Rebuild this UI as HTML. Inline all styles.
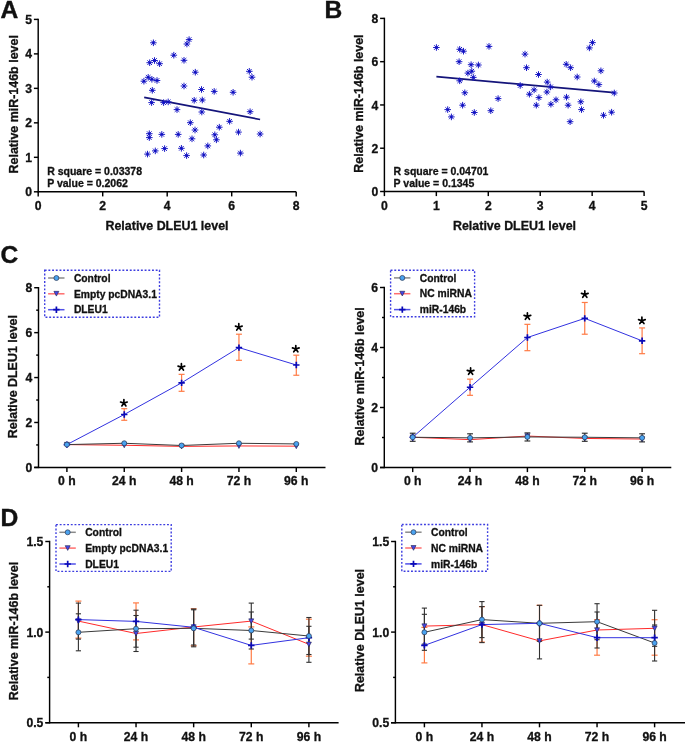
<!DOCTYPE html>
<html><head><meta charset="utf-8"><title>Figure</title>
<style>
html,body{margin:0;padding:0;background:#fff;width:685px;height:742px;overflow:hidden;}
svg{display:block;font-family:"Liberation Sans", sans-serif;font-weight:bold;fill:#111;}
text{stroke:#111;stroke-width:0.3px;}
.pl{stroke-width:0.4px;}
</style></head><body>
<svg style="will-change:transform" width="685" height="742" viewBox="0 0 685 742">
<rect width="685" height="742" fill="#fff"/>
<text x="0.60" y="17.70" font-size="24.6" text-anchor="start"  class="pl">A</text>
<text x="324.50" y="17.60" font-size="24.6" text-anchor="start"  class="pl">B</text>
<text x="0.60" y="262.60" font-size="24.6" text-anchor="start"  class="pl">C</text>
<text x="0.60" y="526.30" font-size="24.6" text-anchor="start"  class="pl">D</text>
<line x1="38.20" y1="18.70" x2="38.20" y2="192.50" stroke="#000" stroke-width="1.45" />
<line x1="33.90" y1="191.80" x2="38.20" y2="191.80" stroke="#000" stroke-width="1.45" />
<text x="32.00" y="196.40" font-size="12.2" text-anchor="end" >0</text>
<line x1="33.90" y1="157.32" x2="38.20" y2="157.32" stroke="#000" stroke-width="1.45" />
<text x="32.00" y="161.92" font-size="12.2" text-anchor="end" >1</text>
<line x1="33.90" y1="122.84" x2="38.20" y2="122.84" stroke="#000" stroke-width="1.45" />
<text x="32.00" y="127.44" font-size="12.2" text-anchor="end" >2</text>
<line x1="33.90" y1="88.36" x2="38.20" y2="88.36" stroke="#000" stroke-width="1.45" />
<text x="32.00" y="92.96" font-size="12.2" text-anchor="end" >3</text>
<line x1="33.90" y1="53.88" x2="38.20" y2="53.88" stroke="#000" stroke-width="1.45" />
<text x="32.00" y="58.48" font-size="12.2" text-anchor="end" >4</text>
<line x1="33.90" y1="19.40" x2="38.20" y2="19.40" stroke="#000" stroke-width="1.45" />
<text x="32.00" y="24.00" font-size="12.2" text-anchor="end" >5</text>
<line x1="38.20" y1="191.80" x2="296.20" y2="191.80" stroke="#000" stroke-width="1.45" />
<line x1="38.20" y1="191.80" x2="38.20" y2="196.40" stroke="#000" stroke-width="1.45" />
<text x="38.20" y="210.20" font-size="12.2" text-anchor="middle" >0</text>
<line x1="102.70" y1="191.80" x2="102.70" y2="196.40" stroke="#000" stroke-width="1.45" />
<text x="102.70" y="210.20" font-size="12.2" text-anchor="middle" >2</text>
<line x1="167.20" y1="191.80" x2="167.20" y2="196.40" stroke="#000" stroke-width="1.45" />
<text x="167.20" y="210.20" font-size="12.2" text-anchor="middle" >4</text>
<line x1="231.70" y1="191.80" x2="231.70" y2="196.40" stroke="#000" stroke-width="1.45" />
<text x="231.70" y="210.20" font-size="12.2" text-anchor="middle" >6</text>
<line x1="296.20" y1="191.80" x2="296.20" y2="196.40" stroke="#000" stroke-width="1.45" />
<text x="296.20" y="210.20" font-size="12.2" text-anchor="middle" >8</text>
<text x="0" y="0" font-size="12.45" text-anchor="middle" transform="translate(17.60,104.30) rotate(-90)">Relative miR-146b level</text>
<text x="167.00" y="229.70" font-size="12.45" text-anchor="middle" >Relative DLEU1 level</text>
<text x="47.20" y="175.40" font-size="10.5" text-anchor="start" >R square = 0.03378</text>
<text x="47.20" y="187.10" font-size="10.5" text-anchor="start" >P value = 0.2062</text>
<line x1="144.20" y1="97.40" x2="260.10" y2="119.50" stroke="#14147a" stroke-width="1.75" />
<g stroke="#1e1ec8" stroke-width="1.0" fill="none">
<path d="M153.40 39.50V46.10M150.10 42.80H156.70M151.10 40.50L155.70 45.10M151.10 45.10L155.70 40.50"/><circle cx="153.40" cy="42.80" r="1.2" fill="#1010c0" stroke="none"/>
<path d="M189.10 36.30V42.90M185.80 39.60H192.40M186.80 37.30L191.40 41.90M186.80 41.90L191.40 37.30"/><circle cx="189.10" cy="39.60" r="1.2" fill="#1010c0" stroke="none"/>
<path d="M186.90 40.70V47.30M183.60 44.00H190.20M184.60 41.70L189.20 46.30M184.60 46.30L189.20 41.70"/><circle cx="186.90" cy="44.00" r="1.2" fill="#1010c0" stroke="none"/>
<path d="M173.80 51.90V58.50M170.50 55.20H177.10M171.50 52.90L176.10 57.50M171.50 57.50L176.10 52.90"/><circle cx="173.80" cy="55.20" r="1.2" fill="#1010c0" stroke="none"/>
<path d="M184.00 57.00V63.60M180.70 60.30H187.30M181.70 58.00L186.30 62.60M181.70 62.60L186.30 58.00"/><circle cx="184.00" cy="60.30" r="1.2" fill="#1010c0" stroke="none"/>
<path d="M149.70 59.40V66.00M146.40 62.70H153.00M147.40 60.40L152.00 65.00M147.40 65.00L152.00 60.40"/><circle cx="149.70" cy="62.70" r="1.2" fill="#1010c0" stroke="none"/>
<path d="M154.50 57.20V63.80M151.20 60.50H157.80M152.20 58.20L156.80 62.80M152.20 62.80L156.80 58.20"/><circle cx="154.50" cy="60.50" r="1.2" fill="#1010c0" stroke="none"/>
<path d="M159.60 60.40V67.00M156.30 63.70H162.90M157.30 61.40L161.90 66.00M157.30 66.00L161.90 61.40"/><circle cx="159.60" cy="63.70" r="1.2" fill="#1010c0" stroke="none"/>
<path d="M195.30 68.90V75.50M192.00 72.20H198.60M193.00 69.90L197.60 74.50M193.00 74.50L197.60 69.90"/><circle cx="195.30" cy="72.20" r="1.2" fill="#1010c0" stroke="none"/>
<path d="M143.90 77.90V84.50M140.60 81.20H147.20M141.60 78.90L146.20 83.50M141.60 83.50L146.20 78.90"/><circle cx="143.90" cy="81.20" r="1.2" fill="#1010c0" stroke="none"/>
<path d="M148.20 74.00V80.60M144.90 77.30H151.50M145.90 75.00L150.50 79.60M145.90 79.60L150.50 75.00"/><circle cx="148.20" cy="77.30" r="1.2" fill="#1010c0" stroke="none"/>
<path d="M151.90 76.00V82.60M148.60 79.30H155.20M149.60 77.00L154.20 81.60M149.60 81.60L154.20 77.00"/><circle cx="151.90" cy="79.30" r="1.2" fill="#1010c0" stroke="none"/>
<path d="M157.00 77.20V83.80M153.70 80.50H160.30M154.70 78.20L159.30 82.80M154.70 82.80L159.30 78.20"/><circle cx="157.00" cy="80.50" r="1.2" fill="#1010c0" stroke="none"/>
<path d="M152.30 87.00V93.60M149.00 90.30H155.60M150.00 88.00L154.60 92.60M150.00 92.60L154.60 88.00"/><circle cx="152.30" cy="90.30" r="1.2" fill="#1010c0" stroke="none"/>
<path d="M184.00 82.70V89.30M180.70 86.00H187.30M181.70 83.70L186.30 88.30M181.70 88.30L186.30 83.70"/><circle cx="184.00" cy="86.00" r="1.2" fill="#1010c0" stroke="none"/>
<path d="M201.50 86.20V92.80M198.20 89.50H204.80M199.20 87.20L203.80 91.80M199.20 91.80L203.80 87.20"/><circle cx="201.50" cy="89.50" r="1.2" fill="#1010c0" stroke="none"/>
<path d="M214.20 88.10V94.70M210.90 91.40H217.50M211.90 89.10L216.50 93.70M211.90 93.70L216.50 89.10"/><circle cx="214.20" cy="91.40" r="1.2" fill="#1010c0" stroke="none"/>
<path d="M194.20 97.00V103.60M190.90 100.30H197.50M191.90 98.00L196.50 102.60M191.90 102.60L196.50 98.00"/><circle cx="194.20" cy="100.30" r="1.2" fill="#1010c0" stroke="none"/>
<path d="M202.30 96.70V103.30M199.00 100.00H205.60M200.00 97.70L204.60 102.30M200.00 102.30L204.60 97.70"/><circle cx="202.30" cy="100.00" r="1.2" fill="#1010c0" stroke="none"/>
<path d="M151.60 99.30V105.90M148.30 102.60H154.90M149.30 100.30L153.90 104.90M149.30 104.90L153.90 100.30"/><circle cx="151.60" cy="102.60" r="1.2" fill="#1010c0" stroke="none"/>
<path d="M163.60 99.30V105.90M160.30 102.60H166.90M161.30 100.30L165.90 104.90M161.30 104.90L165.90 100.30"/><circle cx="163.60" cy="102.60" r="1.2" fill="#1010c0" stroke="none"/>
<path d="M168.20 98.60V105.20M164.90 101.90H171.50M165.90 99.60L170.50 104.20M165.90 104.20L170.50 99.60"/><circle cx="168.20" cy="101.90" r="1.2" fill="#1010c0" stroke="none"/>
<path d="M177.00 106.30V112.90M173.70 109.60H180.30M174.70 107.30L179.30 111.90M174.70 111.90L179.30 107.30"/><circle cx="177.00" cy="109.60" r="1.2" fill="#1010c0" stroke="none"/>
<path d="M201.80 108.70V115.30M198.50 112.00H205.10M199.50 109.70L204.10 114.30M199.50 114.30L204.10 109.70"/><circle cx="201.80" cy="112.00" r="1.2" fill="#1010c0" stroke="none"/>
<path d="M190.30 119.40V126.00M187.00 122.70H193.60M188.00 120.40L192.60 125.00M188.00 125.00L192.60 120.40"/><circle cx="190.30" cy="122.70" r="1.2" fill="#1010c0" stroke="none"/>
<path d="M195.00 126.70V133.30M191.70 130.00H198.30M192.70 127.70L197.30 132.30M192.70 132.30L197.30 127.70"/><circle cx="195.00" cy="130.00" r="1.2" fill="#1010c0" stroke="none"/>
<path d="M219.30 123.90V130.50M216.00 127.20H222.60M217.00 124.90L221.60 129.50M217.00 129.50L221.60 124.90"/><circle cx="219.30" cy="127.20" r="1.2" fill="#1010c0" stroke="none"/>
<path d="M229.60 118.00V124.60M226.30 121.30H232.90M227.30 119.00L231.90 123.60M227.30 123.60L231.90 119.00"/><circle cx="229.60" cy="121.30" r="1.2" fill="#1010c0" stroke="none"/>
<path d="M149.30 130.40V137.00M146.00 133.70H152.60M147.00 131.40L151.60 136.00M147.00 136.00L151.60 131.40"/><circle cx="149.30" cy="133.70" r="1.2" fill="#1010c0" stroke="none"/>
<path d="M149.30 134.30V140.90M146.00 137.60H152.60M147.00 135.30L151.60 139.90M147.00 139.90L151.60 135.30"/><circle cx="149.30" cy="137.60" r="1.2" fill="#1010c0" stroke="none"/>
<path d="M161.80 131.10V137.70M158.50 134.40H165.10M159.50 132.10L164.10 136.70M159.50 136.70L164.10 132.10"/><circle cx="161.80" cy="134.40" r="1.2" fill="#1010c0" stroke="none"/>
<path d="M178.20 131.10V137.70M174.90 134.40H181.50M175.90 132.10L180.50 136.70M175.90 136.70L180.50 132.10"/><circle cx="178.20" cy="134.40" r="1.2" fill="#1010c0" stroke="none"/>
<path d="M192.00 135.50V142.10M188.70 138.80H195.30M189.70 136.50L194.30 141.10M189.70 141.10L194.30 136.50"/><circle cx="192.00" cy="138.80" r="1.2" fill="#1010c0" stroke="none"/>
<path d="M214.80 131.50V138.10M211.50 134.80H218.10M212.50 132.50L217.10 137.10M212.50 137.10L217.10 132.50"/><circle cx="214.80" cy="134.80" r="1.2" fill="#1010c0" stroke="none"/>
<path d="M216.40 136.50V143.10M213.10 139.80H219.70M214.10 137.50L218.70 142.10M214.10 142.10L218.70 137.50"/><circle cx="216.40" cy="139.80" r="1.2" fill="#1010c0" stroke="none"/>
<path d="M207.80 142.60V149.20M204.50 145.90H211.10M205.50 143.60L210.10 148.20M205.50 148.20L210.10 143.60"/><circle cx="207.80" cy="145.90" r="1.2" fill="#1010c0" stroke="none"/>
<path d="M147.50 150.80V157.40M144.20 154.10H150.80M145.20 151.80L149.80 156.40M145.20 156.40L149.80 151.80"/><circle cx="147.50" cy="154.10" r="1.2" fill="#1010c0" stroke="none"/>
<path d="M155.30 147.60V154.20M152.00 150.90H158.60M153.00 148.60L157.60 153.20M153.00 153.20L157.60 148.60"/><circle cx="155.30" cy="150.90" r="1.2" fill="#1010c0" stroke="none"/>
<path d="M164.60 145.30V151.90M161.30 148.60H167.90M162.30 146.30L166.90 150.90M162.30 150.90L166.90 146.30"/><circle cx="164.60" cy="148.60" r="1.2" fill="#1010c0" stroke="none"/>
<path d="M181.40 145.00V151.60M178.10 148.30H184.70M179.10 146.00L183.70 150.60M179.10 150.60L183.70 146.00"/><circle cx="181.40" cy="148.30" r="1.2" fill="#1010c0" stroke="none"/>
<path d="M186.60 152.30V158.90M183.30 155.60H189.90M184.30 153.30L188.90 157.90M184.30 157.90L188.90 153.30"/><circle cx="186.60" cy="155.60" r="1.2" fill="#1010c0" stroke="none"/>
<path d="M203.70 151.70V158.30M200.40 155.00H207.00M201.40 152.70L206.00 157.30M201.40 157.30L206.00 152.70"/><circle cx="203.70" cy="155.00" r="1.2" fill="#1010c0" stroke="none"/>
<path d="M249.30 68.00V74.60M246.00 71.30H252.60M247.00 69.00L251.60 73.60M247.00 73.60L251.60 69.00"/><circle cx="249.30" cy="71.30" r="1.2" fill="#1010c0" stroke="none"/>
<path d="M252.00 73.90V80.50M248.70 77.20H255.30M249.70 74.90L254.30 79.50M249.70 79.50L254.30 74.90"/><circle cx="252.00" cy="77.20" r="1.2" fill="#1010c0" stroke="none"/>
<path d="M233.10 89.00V95.60M229.80 92.30H236.40M230.80 90.00L235.40 94.60M230.80 94.60L235.40 90.00"/><circle cx="233.10" cy="92.30" r="1.2" fill="#1010c0" stroke="none"/>
<path d="M250.10 108.40V115.00M246.80 111.70H253.40M247.80 109.40L252.40 114.00M247.80 114.00L252.40 109.40"/><circle cx="250.10" cy="111.70" r="1.2" fill="#1010c0" stroke="none"/>
<path d="M238.50 128.80V135.40M235.20 132.10H241.80M236.20 129.80L240.80 134.40M236.20 134.40L240.80 129.80"/><circle cx="238.50" cy="132.10" r="1.2" fill="#1010c0" stroke="none"/>
<path d="M260.10 130.70V137.30M256.80 134.00H263.40M257.80 131.70L262.40 136.30M257.80 136.30L262.40 131.70"/><circle cx="260.10" cy="134.00" r="1.2" fill="#1010c0" stroke="none"/>
<path d="M240.40 149.80V156.40M237.10 153.10H243.70M238.10 150.80L242.70 155.40M238.10 155.40L242.70 150.80"/><circle cx="240.40" cy="153.10" r="1.2" fill="#1010c0" stroke="none"/>
</g>
<line x1="384.40" y1="17.70" x2="384.40" y2="192.20" stroke="#000" stroke-width="1.45" />
<line x1="380.10" y1="191.50" x2="384.40" y2="191.50" stroke="#000" stroke-width="1.45" />
<text x="378.20" y="196.10" font-size="12.2" text-anchor="end" >0</text>
<line x1="380.10" y1="148.22" x2="384.40" y2="148.22" stroke="#000" stroke-width="1.45" />
<text x="378.20" y="152.82" font-size="12.2" text-anchor="end" >2</text>
<line x1="380.10" y1="104.95" x2="384.40" y2="104.95" stroke="#000" stroke-width="1.45" />
<text x="378.20" y="109.55" font-size="12.2" text-anchor="end" >4</text>
<line x1="380.10" y1="61.68" x2="384.40" y2="61.68" stroke="#000" stroke-width="1.45" />
<text x="378.20" y="66.28" font-size="12.2" text-anchor="end" >6</text>
<line x1="380.10" y1="18.40" x2="384.40" y2="18.40" stroke="#000" stroke-width="1.45" />
<text x="378.20" y="23.00" font-size="12.2" text-anchor="end" >8</text>
<line x1="384.40" y1="191.50" x2="644.20" y2="191.50" stroke="#000" stroke-width="1.45" />
<line x1="384.40" y1="191.50" x2="384.40" y2="196.10" stroke="#000" stroke-width="1.45" />
<text x="384.40" y="210.10" font-size="12.2" text-anchor="middle" >0</text>
<line x1="436.34" y1="191.50" x2="436.34" y2="196.10" stroke="#000" stroke-width="1.45" />
<text x="436.34" y="210.10" font-size="12.2" text-anchor="middle" >1</text>
<line x1="488.28" y1="191.50" x2="488.28" y2="196.10" stroke="#000" stroke-width="1.45" />
<text x="488.28" y="210.10" font-size="12.2" text-anchor="middle" >2</text>
<line x1="540.22" y1="191.50" x2="540.22" y2="196.10" stroke="#000" stroke-width="1.45" />
<text x="540.22" y="210.10" font-size="12.2" text-anchor="middle" >3</text>
<line x1="592.16" y1="191.50" x2="592.16" y2="196.10" stroke="#000" stroke-width="1.45" />
<text x="592.16" y="210.10" font-size="12.2" text-anchor="middle" >4</text>
<line x1="644.10" y1="191.50" x2="644.10" y2="196.10" stroke="#000" stroke-width="1.45" />
<text x="644.10" y="210.10" font-size="12.2" text-anchor="middle" >5</text>
<text x="0" y="0" font-size="12.45" text-anchor="middle" transform="translate(363.40,103.60) rotate(-90)">Relative miR-146b level</text>
<text x="514.50" y="229.50" font-size="12.45" text-anchor="middle" >Relative DLEU1 level</text>
<text x="393.60" y="175.40" font-size="10.5" text-anchor="start" >R square = 0.04701</text>
<text x="393.60" y="187.10" font-size="10.5" text-anchor="start" >P value = 0.1345</text>
<line x1="436.40" y1="76.70" x2="614.30" y2="92.60" stroke="#14147a" stroke-width="1.75" />
<g stroke="#1e1ec8" stroke-width="1.0" fill="none">
<path d="M436.40 44.20V50.80M433.10 47.50H439.70M434.10 45.20L438.70 49.80M434.10 49.80L438.70 45.20"/><circle cx="436.40" cy="47.50" r="1.2" fill="#1010c0" stroke="none"/>
<path d="M459.70 46.00V52.60M456.40 49.30H463.00M457.40 47.00L462.00 51.60M457.40 51.60L462.00 47.00"/><circle cx="459.70" cy="49.30" r="1.2" fill="#1010c0" stroke="none"/>
<path d="M463.50 47.90V54.50M460.20 51.20H466.80M461.20 48.90L465.80 53.50M461.20 53.50L465.80 48.90"/><circle cx="463.50" cy="51.20" r="1.2" fill="#1010c0" stroke="none"/>
<path d="M489.00 43.10V49.70M485.70 46.40H492.30M486.70 44.10L491.30 48.70M486.70 48.70L491.30 44.10"/><circle cx="489.00" cy="46.40" r="1.2" fill="#1010c0" stroke="none"/>
<path d="M459.10 58.40V65.00M455.80 61.70H462.40M456.80 59.40L461.40 64.00M456.80 64.00L461.40 59.40"/><circle cx="459.10" cy="61.70" r="1.2" fill="#1010c0" stroke="none"/>
<path d="M471.10 61.40V68.00M467.80 64.70H474.40M468.80 62.40L473.40 67.00M468.80 67.00L473.40 62.40"/><circle cx="471.10" cy="64.70" r="1.2" fill="#1010c0" stroke="none"/>
<path d="M478.40 61.70V68.30M475.10 65.00H481.70M476.10 62.70L480.70 67.30M476.10 67.30L480.70 62.70"/><circle cx="478.40" cy="65.00" r="1.2" fill="#1010c0" stroke="none"/>
<path d="M471.80 67.90V74.50M468.50 71.20H475.10M469.50 68.90L474.10 73.50M469.50 73.50L474.10 68.90"/><circle cx="471.80" cy="71.20" r="1.2" fill="#1010c0" stroke="none"/>
<path d="M467.90 69.80V76.40M464.60 73.10H471.20M465.60 70.80L470.20 75.40M465.60 75.40L470.20 70.80"/><circle cx="467.90" cy="73.10" r="1.2" fill="#1010c0" stroke="none"/>
<path d="M473.30 74.10V80.70M470.00 77.40H476.60M471.00 75.10L475.60 79.70M471.00 79.70L475.60 75.10"/><circle cx="473.30" cy="77.40" r="1.2" fill="#1010c0" stroke="none"/>
<path d="M459.70 77.50V84.10M456.40 80.80H463.00M457.40 78.50L462.00 83.10M457.40 83.10L462.00 78.50"/><circle cx="459.70" cy="80.80" r="1.2" fill="#1010c0" stroke="none"/>
<path d="M464.80 89.50V96.10M461.50 92.80H468.10M462.50 90.50L467.10 95.10M462.50 95.10L467.10 90.50"/><circle cx="464.80" cy="92.80" r="1.2" fill="#1010c0" stroke="none"/>
<path d="M498.10 95.30V101.90M494.80 98.60H501.40M495.80 96.30L500.40 100.90M495.80 100.90L500.40 96.30"/><circle cx="498.10" cy="98.60" r="1.2" fill="#1010c0" stroke="none"/>
<path d="M462.60 101.90V108.50M459.30 105.20H465.90M460.30 102.90L464.90 107.50M460.30 107.50L464.90 102.90"/><circle cx="462.60" cy="105.20" r="1.2" fill="#1010c0" stroke="none"/>
<path d="M447.70 106.30V112.90M444.40 109.60H451.00M445.40 107.30L450.00 111.90M445.40 111.90L450.00 107.30"/><circle cx="447.70" cy="109.60" r="1.2" fill="#1010c0" stroke="none"/>
<path d="M451.40 113.60V120.20M448.10 116.90H454.70M449.10 114.60L453.70 119.20M449.10 119.20L453.70 114.60"/><circle cx="451.40" cy="116.90" r="1.2" fill="#1010c0" stroke="none"/>
<path d="M474.30 109.20V115.80M471.00 112.50H477.60M472.00 110.20L476.60 114.80M472.00 114.80L476.60 110.20"/><circle cx="474.30" cy="112.50" r="1.2" fill="#1010c0" stroke="none"/>
<path d="M490.80 107.40V114.00M487.50 110.70H494.10M488.50 108.40L493.10 113.00M488.50 113.00L493.10 108.40"/><circle cx="490.80" cy="110.70" r="1.2" fill="#1010c0" stroke="none"/>
<path d="M520.20 82.20V88.80M516.90 85.50H523.50M517.90 83.20L522.50 87.80M517.90 87.80L522.50 83.20"/><circle cx="520.20" cy="85.50" r="1.2" fill="#1010c0" stroke="none"/>
<path d="M525.00 50.80V57.40M521.70 54.10H528.30M522.70 51.80L527.30 56.40M522.70 56.40L527.30 51.80"/><circle cx="525.00" cy="54.10" r="1.2" fill="#1010c0" stroke="none"/>
<path d="M526.50 64.40V71.00M523.20 67.70H529.80M524.20 65.40L528.80 70.00M524.20 70.00L528.80 65.40"/><circle cx="526.50" cy="67.70" r="1.2" fill="#1010c0" stroke="none"/>
<path d="M538.50 71.20V77.80M535.20 74.50H541.80M536.20 72.20L540.80 76.80M536.20 76.80L540.80 72.20"/><circle cx="538.50" cy="74.50" r="1.2" fill="#1010c0" stroke="none"/>
<path d="M547.20 78.80V85.40M543.90 82.10H550.50M544.90 79.80L549.50 84.40M544.90 84.40L549.50 79.80"/><circle cx="547.20" cy="82.10" r="1.2" fill="#1010c0" stroke="none"/>
<path d="M550.60 83.60V90.20M547.30 86.90H553.90M548.30 84.60L552.90 89.20M548.30 89.20L552.90 84.60"/><circle cx="550.60" cy="86.90" r="1.2" fill="#1010c0" stroke="none"/>
<path d="M534.10 86.60V93.20M530.80 89.90H537.40M531.80 87.60L536.40 92.20M531.80 92.20L536.40 87.60"/><circle cx="534.10" cy="89.90" r="1.2" fill="#1010c0" stroke="none"/>
<path d="M529.40 90.90V97.50M526.10 94.20H532.70M527.10 91.90L531.70 96.50M527.10 96.50L531.70 91.90"/><circle cx="529.40" cy="94.20" r="1.2" fill="#1010c0" stroke="none"/>
<path d="M546.90 88.70V95.30M543.60 92.00H550.20M544.60 89.70L549.20 94.30M544.60 94.30L549.20 89.70"/><circle cx="546.90" cy="92.00" r="1.2" fill="#1010c0" stroke="none"/>
<path d="M538.90 94.30V100.90M535.60 97.60H542.20M536.60 95.30L541.20 99.90M536.60 99.90L541.20 95.30"/><circle cx="538.90" cy="97.60" r="1.2" fill="#1010c0" stroke="none"/>
<path d="M536.30 101.90V108.50M533.00 105.20H539.60M534.00 102.90L538.60 107.50M534.00 107.50L538.60 102.90"/><circle cx="536.30" cy="105.20" r="1.2" fill="#1010c0" stroke="none"/>
<path d="M550.90 100.90V107.50M547.60 104.20H554.20M548.60 101.90L553.20 106.50M548.60 106.50L553.20 101.90"/><circle cx="550.90" cy="104.20" r="1.2" fill="#1010c0" stroke="none"/>
<path d="M556.00 96.50V103.10M552.70 99.80H559.30M553.70 97.50L558.30 102.10M553.70 102.10L558.30 97.50"/><circle cx="556.00" cy="99.80" r="1.2" fill="#1010c0" stroke="none"/>
<path d="M566.20 61.00V67.60M562.90 64.30H569.50M563.90 62.00L568.50 66.60M563.90 66.60L568.50 62.00"/><circle cx="566.20" cy="64.30" r="1.2" fill="#1010c0" stroke="none"/>
<path d="M570.60 64.40V71.00M567.30 67.70H573.90M568.30 65.40L572.90 70.00M568.30 70.00L572.90 65.40"/><circle cx="570.60" cy="67.70" r="1.2" fill="#1010c0" stroke="none"/>
<path d="M577.20 73.70V80.30M573.90 77.00H580.50M574.90 74.70L579.50 79.30M574.90 79.30L579.50 74.70"/><circle cx="577.20" cy="77.00" r="1.2" fill="#1010c0" stroke="none"/>
<path d="M566.50 93.90V100.50M563.20 97.20H569.80M564.20 94.90L568.80 99.50M564.20 99.50L568.80 94.90"/><circle cx="566.50" cy="97.20" r="1.2" fill="#1010c0" stroke="none"/>
<path d="M568.10 101.90V108.50M564.80 105.20H571.40M565.80 102.90L570.40 107.50M565.80 107.50L570.40 102.90"/><circle cx="568.10" cy="105.20" r="1.2" fill="#1010c0" stroke="none"/>
<path d="M580.80 98.50V105.10M577.50 101.80H584.10M578.50 99.50L583.10 104.10M578.50 104.10L583.10 99.50"/><circle cx="580.80" cy="101.80" r="1.2" fill="#1010c0" stroke="none"/>
<path d="M581.50 106.30V112.90M578.20 109.60H584.80M579.20 107.30L583.80 111.90M579.20 111.90L583.80 107.30"/><circle cx="581.50" cy="109.60" r="1.2" fill="#1010c0" stroke="none"/>
<path d="M570.10 118.40V125.00M566.80 121.70H573.40M567.80 119.40L572.40 124.00M567.80 124.00L572.40 119.40"/><circle cx="570.10" cy="121.70" r="1.2" fill="#1010c0" stroke="none"/>
<path d="M592.50 39.30V45.90M589.20 42.60H595.80M590.20 40.30L594.80 44.90M590.20 44.90L594.80 40.30"/><circle cx="592.50" cy="42.60" r="1.2" fill="#1010c0" stroke="none"/>
<path d="M589.40 44.60V51.20M586.10 47.90H592.70M587.10 45.60L591.70 50.20M587.10 50.20L591.70 45.60"/><circle cx="589.40" cy="47.90" r="1.2" fill="#1010c0" stroke="none"/>
<path d="M600.90 67.50V74.10M597.60 70.80H604.20M598.60 68.50L603.20 73.10M598.60 73.10L603.20 68.50"/><circle cx="600.90" cy="70.80" r="1.2" fill="#1010c0" stroke="none"/>
<path d="M594.30 77.70V84.30M591.00 81.00H597.60M592.00 78.70L596.60 83.30M592.00 83.30L596.60 78.70"/><circle cx="594.30" cy="81.00" r="1.2" fill="#1010c0" stroke="none"/>
<path d="M598.90 81.30V87.90M595.60 84.60H602.20M596.60 82.30L601.20 86.90M596.60 86.90L601.20 82.30"/><circle cx="598.90" cy="84.60" r="1.2" fill="#1010c0" stroke="none"/>
<path d="M614.30 89.70V96.30M611.00 93.00H617.60M612.00 90.70L616.60 95.30M612.00 95.30L616.60 90.70"/><circle cx="614.30" cy="93.00" r="1.2" fill="#1010c0" stroke="none"/>
<path d="M611.60 108.90V115.50M608.30 112.20H614.90M609.30 109.90L613.90 114.50M609.30 114.50L613.90 109.90"/><circle cx="611.60" cy="112.20" r="1.2" fill="#1010c0" stroke="none"/>
<path d="M603.50 112.00V118.60M600.20 115.30H606.80M601.20 113.00L605.80 117.60M601.20 117.60L605.80 113.00"/><circle cx="603.50" cy="115.30" r="1.2" fill="#1010c0" stroke="none"/>
</g>
<line x1="38.50" y1="287.00" x2="38.50" y2="468.10" stroke="#000" stroke-width="1.45" />
<line x1="34.20" y1="467.40" x2="38.50" y2="467.40" stroke="#000" stroke-width="1.45" />
<text x="32.30" y="472.00" font-size="12.2" text-anchor="end" >0</text>
<line x1="34.20" y1="422.48" x2="38.50" y2="422.48" stroke="#000" stroke-width="1.45" />
<text x="32.30" y="427.08" font-size="12.2" text-anchor="end" >2</text>
<line x1="34.20" y1="377.56" x2="38.50" y2="377.56" stroke="#000" stroke-width="1.45" />
<text x="32.30" y="382.16" font-size="12.2" text-anchor="end" >4</text>
<line x1="34.20" y1="332.64" x2="38.50" y2="332.64" stroke="#000" stroke-width="1.45" />
<text x="32.30" y="337.24" font-size="12.2" text-anchor="end" >6</text>
<line x1="34.20" y1="287.72" x2="38.50" y2="287.72" stroke="#000" stroke-width="1.45" />
<text x="32.30" y="292.32" font-size="12.2" text-anchor="end" >8</text>
<line x1="36.20" y1="444.94" x2="38.50" y2="444.94" stroke="#000" stroke-width="1.45" />
<line x1="36.20" y1="400.02" x2="38.50" y2="400.02" stroke="#000" stroke-width="1.45" />
<line x1="36.20" y1="355.10" x2="38.50" y2="355.10" stroke="#000" stroke-width="1.45" />
<line x1="36.20" y1="310.18" x2="38.50" y2="310.18" stroke="#000" stroke-width="1.45" />
<line x1="34.20" y1="467.40" x2="325.50" y2="467.40" stroke="#000" stroke-width="1.45" />
<line x1="66.90" y1="467.40" x2="66.90" y2="472.00" stroke="#000" stroke-width="1.45" />
<text x="66.90" y="485.20" font-size="12.2" text-anchor="middle" >0 h</text>
<line x1="124.25" y1="467.40" x2="124.25" y2="472.00" stroke="#000" stroke-width="1.45" />
<text x="124.25" y="485.20" font-size="12.2" text-anchor="middle" >24 h</text>
<line x1="181.60" y1="467.40" x2="181.60" y2="472.00" stroke="#000" stroke-width="1.45" />
<text x="181.60" y="485.20" font-size="12.2" text-anchor="middle" >48 h</text>
<line x1="238.95" y1="467.40" x2="238.95" y2="472.00" stroke="#000" stroke-width="1.45" />
<text x="238.95" y="485.20" font-size="12.2" text-anchor="middle" >72 h</text>
<line x1="296.30" y1="467.40" x2="296.30" y2="472.00" stroke="#000" stroke-width="1.45" />
<text x="296.30" y="485.20" font-size="12.2" text-anchor="middle" >96 h</text>
<text x="0" y="0" font-size="12.45" text-anchor="middle" transform="translate(17.30,376.60) rotate(-90)">Relative DLEU1 level</text>
<line x1="124.25" y1="408.70" x2="124.25" y2="420.29" stroke="#ff7b45" stroke-width="1.2" />
<line x1="121.25" y1="408.70" x2="127.25" y2="408.70" stroke="#ff7b45" stroke-width="1.2" />
<line x1="121.25" y1="420.29" x2="127.25" y2="420.29" stroke="#ff7b45" stroke-width="1.2" />
<line x1="181.60" y1="374.35" x2="181.60" y2="391.30" stroke="#ff7b45" stroke-width="1.2" />
<line x1="178.60" y1="374.35" x2="184.60" y2="374.35" stroke="#ff7b45" stroke-width="1.2" />
<line x1="178.60" y1="391.30" x2="184.60" y2="391.30" stroke="#ff7b45" stroke-width="1.2" />
<line x1="238.95" y1="334.21" x2="238.95" y2="360.31" stroke="#ff7b45" stroke-width="1.2" />
<line x1="235.95" y1="334.21" x2="241.95" y2="334.21" stroke="#ff7b45" stroke-width="1.2" />
<line x1="235.95" y1="360.31" x2="241.95" y2="360.31" stroke="#ff7b45" stroke-width="1.2" />
<line x1="296.30" y1="355.18" x2="296.30" y2="375.25" stroke="#ff7b45" stroke-width="1.2" />
<line x1="293.30" y1="355.18" x2="299.30" y2="355.18" stroke="#ff7b45" stroke-width="1.2" />
<line x1="293.30" y1="375.25" x2="299.30" y2="375.25" stroke="#ff7b45" stroke-width="1.2" />
<polyline points="66.90,444.60 124.25,445.27 181.60,446.38 238.95,445.94 296.30,446.16" fill="none" stroke="#ff2a2a" stroke-width="1.0"/>
<polyline points="66.90,444.60 124.25,443.26 181.60,445.49 238.95,443.26 296.30,443.93" fill="none" stroke="#3a3a3a" stroke-width="1.0"/>
<polyline points="66.90,444.60 124.25,414.50 181.60,382.83 238.95,347.59 296.30,364.99" fill="none" stroke="#3232e0" stroke-width="1.0"/>
<path d="M64.40 442.35H69.40L66.90 447.10Z" fill="#4646e6" stroke="#20204a" stroke-width="0.6"/>
<path d="M121.75 443.02H126.75L124.25 447.77Z" fill="#4646e6" stroke="#20204a" stroke-width="0.6"/>
<path d="M179.10 444.13H184.10L181.60 448.88Z" fill="#4646e6" stroke="#20204a" stroke-width="0.6"/>
<path d="M236.45 443.69H241.45L238.95 448.44Z" fill="#4646e6" stroke="#20204a" stroke-width="0.6"/>
<path d="M293.80 443.91H298.80L296.30 448.66Z" fill="#4646e6" stroke="#20204a" stroke-width="0.6"/>
<path d="M63.70 444.60H70.10M66.90 441.40V447.80" stroke="#0a0ab8" stroke-width="1.7" fill="none"/>
<path d="M121.05 414.50H127.45M124.25 411.30V417.69" stroke="#0a0ab8" stroke-width="1.7" fill="none"/>
<path d="M178.40 382.83H184.80M181.60 379.63V386.03" stroke="#0a0ab8" stroke-width="1.7" fill="none"/>
<path d="M235.75 347.59H242.15M238.95 344.39V350.79" stroke="#0a0ab8" stroke-width="1.7" fill="none"/>
<path d="M293.10 364.99H299.50M296.30 361.79V368.19" stroke="#0a0ab8" stroke-width="1.7" fill="none"/>
<circle cx="66.90" cy="444.60" r="2.5" fill="#4aa3f0" stroke="#2a3550" stroke-width="0.7"/>
<circle cx="124.25" cy="443.26" r="2.5" fill="#4aa3f0" stroke="#2a3550" stroke-width="0.7"/>
<circle cx="181.60" cy="445.49" r="2.5" fill="#4aa3f0" stroke="#2a3550" stroke-width="0.7"/>
<circle cx="238.95" cy="443.26" r="2.5" fill="#4aa3f0" stroke="#2a3550" stroke-width="0.7"/>
<circle cx="296.30" cy="443.93" r="2.5" fill="#4aa3f0" stroke="#2a3550" stroke-width="0.7"/>
<path d="M123.90 403.10L123.90 399.60M123.90 403.10L127.23 402.02M123.90 403.10L125.96 405.93M123.90 403.10L121.84 405.93M123.90 403.10L120.57 402.02" stroke="#000" stroke-width="1.7" stroke-linecap="round" fill="none"/>
<path d="M181.40 367.20L181.40 363.70M181.40 367.20L184.73 366.12M181.40 367.20L183.46 370.03M181.40 367.20L179.34 370.03M181.40 367.20L178.07 366.12" stroke="#000" stroke-width="1.7" stroke-linecap="round" fill="none"/>
<path d="M238.80 327.20L238.80 323.70M238.80 327.20L242.13 326.12M238.80 327.20L240.86 330.03M238.80 327.20L236.74 330.03M238.80 327.20L235.47 326.12" stroke="#000" stroke-width="1.7" stroke-linecap="round" fill="none"/>
<path d="M295.80 349.00L295.80 345.50M295.80 349.00L299.13 347.92M295.80 349.00L297.86 351.83M295.80 349.00L293.74 351.83M295.80 349.00L292.47 347.92" stroke="#000" stroke-width="1.7" stroke-linecap="round" fill="none"/>
<rect x="44.70" y="270.30" width="114.80" height="46.90" fill="none" stroke="#3d3de0" stroke-width="1.4" stroke-dasharray="1.9 1.8"/>
<line x1="48.10" y1="278.00" x2="64.50" y2="278.00" stroke="#8a8a8a" stroke-width="1.5" />
<circle cx="56.40" cy="278.00" r="2.5" fill="#4aa3f0" stroke="#2a3550" stroke-width="0.7"/>
<line x1="48.10" y1="293.80" x2="64.50" y2="293.80" stroke="#ff6e6e" stroke-width="1.5" />
<path d="M53.90 291.35H58.90L56.40 296.10Z" fill="#4646e6" stroke="#20204a" stroke-width="0.6"/>
<line x1="48.10" y1="309.70" x2="64.50" y2="309.70" stroke="#5050e8" stroke-width="1.5" />
<path d="M53.20 309.70H59.60M56.40 306.50V312.90" stroke="#0a0ab8" stroke-width="1.7" fill="none"/>
<text x="73.90" y="281.70" font-size="10.3" text-anchor="start" >Control</text>
<text x="73.90" y="297.50" font-size="10.3" text-anchor="start" >Empty pcDNA3.1</text>
<text x="73.90" y="313.40" font-size="10.3" text-anchor="start" >DLEU1</text>
<line x1="384.30" y1="286.80" x2="384.30" y2="468.20" stroke="#000" stroke-width="1.45" />
<line x1="380.00" y1="467.50" x2="384.30" y2="467.50" stroke="#000" stroke-width="1.45" />
<text x="378.10" y="472.10" font-size="12.2" text-anchor="end" >0</text>
<line x1="380.00" y1="407.50" x2="384.30" y2="407.50" stroke="#000" stroke-width="1.45" />
<text x="378.10" y="412.10" font-size="12.2" text-anchor="end" >2</text>
<line x1="380.00" y1="347.50" x2="384.30" y2="347.50" stroke="#000" stroke-width="1.45" />
<text x="378.10" y="352.10" font-size="12.2" text-anchor="end" >4</text>
<line x1="380.00" y1="287.50" x2="384.30" y2="287.50" stroke="#000" stroke-width="1.45" />
<text x="378.10" y="292.10" font-size="12.2" text-anchor="end" >6</text>
<line x1="382.00" y1="437.50" x2="384.30" y2="437.50" stroke="#000" stroke-width="1.45" />
<line x1="382.00" y1="377.50" x2="384.30" y2="377.50" stroke="#000" stroke-width="1.45" />
<line x1="382.00" y1="317.50" x2="384.30" y2="317.50" stroke="#000" stroke-width="1.45" />
<line x1="380.00" y1="467.50" x2="671.30" y2="467.50" stroke="#000" stroke-width="1.45" />
<line x1="412.70" y1="467.50" x2="412.70" y2="472.10" stroke="#000" stroke-width="1.45" />
<text x="412.70" y="485.20" font-size="12.2" text-anchor="middle" >0 h</text>
<line x1="470.05" y1="467.50" x2="470.05" y2="472.10" stroke="#000" stroke-width="1.45" />
<text x="470.05" y="485.20" font-size="12.2" text-anchor="middle" >24 h</text>
<line x1="527.40" y1="467.50" x2="527.40" y2="472.10" stroke="#000" stroke-width="1.45" />
<text x="527.40" y="485.20" font-size="12.2" text-anchor="middle" >48 h</text>
<line x1="584.75" y1="467.50" x2="584.75" y2="472.10" stroke="#000" stroke-width="1.45" />
<text x="584.75" y="485.20" font-size="12.2" text-anchor="middle" >72 h</text>
<line x1="642.10" y1="467.50" x2="642.10" y2="472.10" stroke="#000" stroke-width="1.45" />
<text x="642.10" y="485.20" font-size="12.2" text-anchor="middle" >96 h</text>
<text x="0" y="0" font-size="12.45" text-anchor="middle" transform="translate(363.60,376.40) rotate(-90)">Relative miR-146b level</text>
<line x1="412.70" y1="433.21" x2="412.70" y2="441.29" stroke="#222" stroke-width="1.1" />
<line x1="409.80" y1="433.21" x2="415.60" y2="433.21" stroke="#222" stroke-width="1.1" />
<line x1="409.80" y1="441.29" x2="415.60" y2="441.29" stroke="#222" stroke-width="1.1" />
<line x1="470.05" y1="433.81" x2="470.05" y2="441.89" stroke="#222" stroke-width="1.1" />
<line x1="467.15" y1="433.81" x2="472.95" y2="433.81" stroke="#222" stroke-width="1.1" />
<line x1="467.15" y1="441.89" x2="472.95" y2="441.89" stroke="#222" stroke-width="1.1" />
<line x1="527.40" y1="432.91" x2="527.40" y2="440.99" stroke="#222" stroke-width="1.1" />
<line x1="524.50" y1="432.91" x2="530.30" y2="432.91" stroke="#222" stroke-width="1.1" />
<line x1="524.50" y1="440.99" x2="530.30" y2="440.99" stroke="#222" stroke-width="1.1" />
<line x1="584.75" y1="433.21" x2="584.75" y2="441.29" stroke="#222" stroke-width="1.1" />
<line x1="581.85" y1="433.21" x2="587.65" y2="433.21" stroke="#222" stroke-width="1.1" />
<line x1="581.85" y1="441.29" x2="587.65" y2="441.29" stroke="#222" stroke-width="1.1" />
<line x1="642.10" y1="433.81" x2="642.10" y2="441.89" stroke="#222" stroke-width="1.1" />
<line x1="639.20" y1="433.81" x2="645.00" y2="433.81" stroke="#222" stroke-width="1.1" />
<line x1="639.20" y1="441.89" x2="645.00" y2="441.89" stroke="#222" stroke-width="1.1" />
<line x1="470.05" y1="379.15" x2="470.05" y2="395.32" stroke="#ff7b45" stroke-width="1.2" />
<line x1="467.05" y1="379.15" x2="473.05" y2="379.15" stroke="#ff7b45" stroke-width="1.2" />
<line x1="467.05" y1="395.32" x2="473.05" y2="395.32" stroke="#ff7b45" stroke-width="1.2" />
<line x1="527.40" y1="324.34" x2="527.40" y2="350.69" stroke="#ff7b45" stroke-width="1.2" />
<line x1="524.40" y1="324.34" x2="530.40" y2="324.34" stroke="#ff7b45" stroke-width="1.2" />
<line x1="524.40" y1="350.69" x2="530.40" y2="350.69" stroke="#ff7b45" stroke-width="1.2" />
<line x1="584.75" y1="302.48" x2="584.75" y2="334.22" stroke="#ff7b45" stroke-width="1.2" />
<line x1="581.75" y1="302.48" x2="587.75" y2="302.48" stroke="#ff7b45" stroke-width="1.2" />
<line x1="581.75" y1="334.22" x2="587.75" y2="334.22" stroke="#ff7b45" stroke-width="1.2" />
<line x1="642.10" y1="327.93" x2="642.10" y2="353.69" stroke="#ff7b45" stroke-width="1.2" />
<line x1="639.10" y1="327.93" x2="645.10" y2="327.93" stroke="#ff7b45" stroke-width="1.2" />
<line x1="639.10" y1="353.69" x2="645.10" y2="353.69" stroke="#ff7b45" stroke-width="1.2" />
<polyline points="412.70,437.25 470.05,439.65 527.40,436.05 584.75,438.45 642.10,439.05" fill="none" stroke="#ff2a2a" stroke-width="1.0"/>
<polyline points="412.70,437.25 470.05,437.85 527.40,436.95 584.75,437.25 642.10,437.85" fill="none" stroke="#3a3a3a" stroke-width="1.0"/>
<polyline points="412.70,437.25 470.05,387.23 527.40,337.52 584.75,318.35 642.10,340.81" fill="none" stroke="#3232e0" stroke-width="1.0"/>
<path d="M410.20 435.00H415.20L412.70 439.75Z" fill="#4646e6" stroke="#20204a" stroke-width="0.6"/>
<path d="M467.55 437.40H472.55L470.05 442.15Z" fill="#4646e6" stroke="#20204a" stroke-width="0.6"/>
<path d="M524.90 433.80H529.90L527.40 438.55Z" fill="#4646e6" stroke="#20204a" stroke-width="0.6"/>
<path d="M582.25 436.20H587.25L584.75 440.95Z" fill="#4646e6" stroke="#20204a" stroke-width="0.6"/>
<path d="M639.60 436.80H644.60L642.10 441.55Z" fill="#4646e6" stroke="#20204a" stroke-width="0.6"/>
<path d="M409.50 437.25H415.90M412.70 434.05V440.45" stroke="#0a0ab8" stroke-width="1.7" fill="none"/>
<path d="M466.85 387.23H473.25M470.05 384.03V390.43" stroke="#0a0ab8" stroke-width="1.7" fill="none"/>
<path d="M524.20 337.52H530.60M527.40 334.32V340.72" stroke="#0a0ab8" stroke-width="1.7" fill="none"/>
<path d="M581.55 318.35H587.95M584.75 315.15V321.55" stroke="#0a0ab8" stroke-width="1.7" fill="none"/>
<path d="M638.90 340.81H645.30M642.10 337.61V344.01" stroke="#0a0ab8" stroke-width="1.7" fill="none"/>
<circle cx="412.70" cy="437.25" r="2.5" fill="#4aa3f0" stroke="#2a3550" stroke-width="0.7"/>
<circle cx="470.05" cy="437.85" r="2.5" fill="#4aa3f0" stroke="#2a3550" stroke-width="0.7"/>
<circle cx="527.40" cy="436.95" r="2.5" fill="#4aa3f0" stroke="#2a3550" stroke-width="0.7"/>
<circle cx="584.75" cy="437.25" r="2.5" fill="#4aa3f0" stroke="#2a3550" stroke-width="0.7"/>
<circle cx="642.10" cy="437.85" r="2.5" fill="#4aa3f0" stroke="#2a3550" stroke-width="0.7"/>
<path d="M470.60 371.40L470.60 367.90M470.60 371.40L473.93 370.32M470.60 371.40L472.66 374.23M470.60 371.40L468.54 374.23M470.60 371.40L467.27 370.32" stroke="#000" stroke-width="1.7" stroke-linecap="round" fill="none"/>
<path d="M527.40 316.40L527.40 312.90M527.40 316.40L530.73 315.32M527.40 316.40L529.46 319.23M527.40 316.40L525.34 319.23M527.40 316.40L524.07 315.32" stroke="#000" stroke-width="1.7" stroke-linecap="round" fill="none"/>
<path d="M584.80 294.40L584.80 290.90M584.80 294.40L588.13 293.32M584.80 294.40L586.86 297.23M584.80 294.40L582.74 297.23M584.80 294.40L581.47 293.32" stroke="#000" stroke-width="1.7" stroke-linecap="round" fill="none"/>
<path d="M641.90 320.70L641.90 317.20M641.90 320.70L645.23 319.62M641.90 320.70L643.96 323.53M641.90 320.70L639.84 323.53M641.90 320.70L638.57 319.62" stroke="#000" stroke-width="1.7" stroke-linecap="round" fill="none"/>
<rect x="390.60" y="270.20" width="84.00" height="46.60" fill="none" stroke="#3d3de0" stroke-width="1.4" stroke-dasharray="1.9 1.8"/>
<line x1="394.00" y1="277.90" x2="410.40" y2="277.90" stroke="#8a8a8a" stroke-width="1.5" />
<circle cx="402.30" cy="277.90" r="2.5" fill="#4aa3f0" stroke="#2a3550" stroke-width="0.7"/>
<line x1="394.00" y1="293.70" x2="410.40" y2="293.70" stroke="#ff6e6e" stroke-width="1.5" />
<path d="M399.80 291.25H404.80L402.30 296.00Z" fill="#4646e6" stroke="#20204a" stroke-width="0.6"/>
<line x1="394.00" y1="309.60" x2="410.40" y2="309.60" stroke="#5050e8" stroke-width="1.5" />
<path d="M399.10 309.60H405.50M402.30 306.40V312.80" stroke="#0a0ab8" stroke-width="1.7" fill="none"/>
<text x="419.80" y="281.60" font-size="10.3" text-anchor="start" >Control</text>
<text x="419.80" y="297.40" font-size="10.3" text-anchor="start" >NC miRNA</text>
<text x="419.80" y="313.30" font-size="10.3" text-anchor="start" >miR-146b</text>
<line x1="49.60" y1="540.80" x2="49.60" y2="723.40" stroke="#000" stroke-width="1.45" />
<line x1="45.30" y1="722.70" x2="49.60" y2="722.70" stroke="#000" stroke-width="1.45" />
<text x="43.40" y="727.30" font-size="12.2" text-anchor="end" >0.5</text>
<line x1="45.30" y1="632.10" x2="49.60" y2="632.10" stroke="#000" stroke-width="1.45" />
<text x="43.40" y="636.70" font-size="12.2" text-anchor="end" >1.0</text>
<line x1="45.30" y1="541.50" x2="49.60" y2="541.50" stroke="#000" stroke-width="1.45" />
<text x="43.40" y="546.10" font-size="12.2" text-anchor="end" >1.5</text>
<line x1="47.30" y1="677.40" x2="49.60" y2="677.40" stroke="#000" stroke-width="1.45" />
<line x1="47.30" y1="586.80" x2="49.60" y2="586.80" stroke="#000" stroke-width="1.45" />
<line x1="45.40" y1="722.70" x2="338.60" y2="722.70" stroke="#000" stroke-width="1.45" />
<line x1="78.40" y1="722.70" x2="78.40" y2="727.30" stroke="#000" stroke-width="1.45" />
<text x="78.40" y="740.80" font-size="12.2" text-anchor="middle" >0 h</text>
<line x1="136.03" y1="722.70" x2="136.03" y2="727.30" stroke="#000" stroke-width="1.45" />
<text x="136.03" y="740.80" font-size="12.2" text-anchor="middle" >24 h</text>
<line x1="193.65" y1="722.70" x2="193.65" y2="727.30" stroke="#000" stroke-width="1.45" />
<text x="193.65" y="740.80" font-size="12.2" text-anchor="middle" >48 h</text>
<line x1="251.28" y1="722.70" x2="251.28" y2="727.30" stroke="#000" stroke-width="1.45" />
<text x="251.28" y="740.80" font-size="12.2" text-anchor="middle" >72 h</text>
<line x1="308.90" y1="722.70" x2="308.90" y2="727.30" stroke="#000" stroke-width="1.45" />
<text x="308.90" y="740.80" font-size="12.2" text-anchor="middle" >96 h</text>
<text x="0" y="0" font-size="12.45" text-anchor="middle" transform="translate(17.60,631.00) rotate(-90)">Relative miR-146b level</text>
<line x1="78.40" y1="601.10" x2="78.40" y2="638.10" stroke="#ff7b45" stroke-width="1.2" />
<line x1="75.40" y1="601.10" x2="81.40" y2="601.10" stroke="#ff7b45" stroke-width="1.2" />
<line x1="75.40" y1="638.10" x2="81.40" y2="638.10" stroke="#ff7b45" stroke-width="1.2" />
<line x1="136.03" y1="602.90" x2="136.03" y2="639.90" stroke="#ff7b45" stroke-width="1.2" />
<line x1="133.03" y1="602.90" x2="139.03" y2="602.90" stroke="#ff7b45" stroke-width="1.2" />
<line x1="133.03" y1="639.90" x2="139.03" y2="639.90" stroke="#ff7b45" stroke-width="1.2" />
<line x1="193.65" y1="608.80" x2="193.65" y2="645.80" stroke="#ff7b45" stroke-width="1.2" />
<line x1="190.65" y1="608.80" x2="196.65" y2="608.80" stroke="#ff7b45" stroke-width="1.2" />
<line x1="190.65" y1="645.80" x2="196.65" y2="645.80" stroke="#ff7b45" stroke-width="1.2" />
<line x1="251.28" y1="626.90" x2="251.28" y2="663.90" stroke="#ff7b45" stroke-width="1.2" />
<line x1="248.28" y1="626.90" x2="254.28" y2="626.90" stroke="#ff7b45" stroke-width="1.2" />
<line x1="248.28" y1="663.90" x2="254.28" y2="663.90" stroke="#ff7b45" stroke-width="1.2" />
<line x1="308.90" y1="619.20" x2="308.90" y2="656.20" stroke="#ff7b45" stroke-width="1.2" />
<line x1="305.90" y1="619.20" x2="311.90" y2="619.20" stroke="#ff7b45" stroke-width="1.2" />
<line x1="305.90" y1="656.20" x2="311.90" y2="656.20" stroke="#ff7b45" stroke-width="1.2" />
<line x1="78.40" y1="603.10" x2="78.40" y2="639.10" stroke="#303030" stroke-width="1.1" />
<line x1="75.80" y1="603.10" x2="81.00" y2="603.10" stroke="#303030" stroke-width="1.1" />
<line x1="75.80" y1="639.10" x2="81.00" y2="639.10" stroke="#303030" stroke-width="1.1" />
<line x1="78.40" y1="613.80" x2="78.40" y2="650.80" stroke="#303030" stroke-width="1.1" />
<line x1="75.80" y1="613.80" x2="81.00" y2="613.80" stroke="#303030" stroke-width="1.1" />
<line x1="75.80" y1="650.80" x2="81.00" y2="650.80" stroke="#303030" stroke-width="1.1" />
<line x1="136.03" y1="615.50" x2="136.03" y2="651.50" stroke="#303030" stroke-width="1.1" />
<line x1="133.43" y1="615.50" x2="138.62" y2="615.50" stroke="#303030" stroke-width="1.1" />
<line x1="133.43" y1="651.50" x2="138.62" y2="651.50" stroke="#303030" stroke-width="1.1" />
<line x1="136.03" y1="610.20" x2="136.03" y2="647.20" stroke="#303030" stroke-width="1.1" />
<line x1="133.43" y1="610.20" x2="138.62" y2="610.20" stroke="#303030" stroke-width="1.1" />
<line x1="133.43" y1="647.20" x2="138.62" y2="647.20" stroke="#303030" stroke-width="1.1" />
<line x1="193.65" y1="609.00" x2="193.65" y2="645.00" stroke="#303030" stroke-width="1.1" />
<line x1="191.05" y1="609.00" x2="196.25" y2="609.00" stroke="#303030" stroke-width="1.1" />
<line x1="191.05" y1="645.00" x2="196.25" y2="645.00" stroke="#303030" stroke-width="1.1" />
<line x1="193.65" y1="609.80" x2="193.65" y2="646.80" stroke="#303030" stroke-width="1.1" />
<line x1="191.05" y1="609.80" x2="196.25" y2="609.80" stroke="#303030" stroke-width="1.1" />
<line x1="191.05" y1="646.80" x2="196.25" y2="646.80" stroke="#303030" stroke-width="1.1" />
<line x1="251.28" y1="603.10" x2="251.28" y2="639.10" stroke="#303030" stroke-width="1.1" />
<line x1="248.68" y1="603.10" x2="253.88" y2="603.10" stroke="#303030" stroke-width="1.1" />
<line x1="248.68" y1="639.10" x2="253.88" y2="639.10" stroke="#303030" stroke-width="1.1" />
<line x1="251.28" y1="612.00" x2="251.28" y2="649.00" stroke="#303030" stroke-width="1.1" />
<line x1="248.68" y1="612.00" x2="253.88" y2="612.00" stroke="#303030" stroke-width="1.1" />
<line x1="248.68" y1="649.00" x2="253.88" y2="649.00" stroke="#303030" stroke-width="1.1" />
<line x1="308.90" y1="626.30" x2="308.90" y2="662.30" stroke="#303030" stroke-width="1.1" />
<line x1="306.30" y1="626.30" x2="311.50" y2="626.30" stroke="#303030" stroke-width="1.1" />
<line x1="306.30" y1="662.30" x2="311.50" y2="662.30" stroke="#303030" stroke-width="1.1" />
<line x1="308.90" y1="617.50" x2="308.90" y2="654.50" stroke="#303030" stroke-width="1.1" />
<line x1="306.30" y1="617.50" x2="311.50" y2="617.50" stroke="#303030" stroke-width="1.1" />
<line x1="306.30" y1="654.50" x2="311.50" y2="654.50" stroke="#303030" stroke-width="1.1" />
<polyline points="78.40,621.10 136.03,633.50 193.65,627.00 251.28,621.10 308.90,644.30" fill="none" stroke="#ff2a2a" stroke-width="1.0"/>
<polyline points="78.40,632.30 136.03,628.70 193.65,628.30 251.28,630.50 308.90,636.00" fill="none" stroke="#3a3a3a" stroke-width="1.0"/>
<polyline points="78.40,619.60 136.03,621.40 193.65,627.30 251.28,645.40 308.90,637.70" fill="none" stroke="#3232e0" stroke-width="1.0"/>
<path d="M75.90 618.85H80.90L78.40 623.60Z" fill="#4646e6" stroke="#20204a" stroke-width="0.6"/>
<path d="M133.53 631.25H138.53L136.03 636.00Z" fill="#4646e6" stroke="#20204a" stroke-width="0.6"/>
<path d="M191.15 624.75H196.15L193.65 629.50Z" fill="#4646e6" stroke="#20204a" stroke-width="0.6"/>
<path d="M248.78 618.85H253.78L251.28 623.60Z" fill="#4646e6" stroke="#20204a" stroke-width="0.6"/>
<path d="M306.40 642.05H311.40L308.90 646.80Z" fill="#4646e6" stroke="#20204a" stroke-width="0.6"/>
<path d="M75.20 619.60H81.60M78.40 616.40V622.80" stroke="#0a0ab8" stroke-width="1.7" fill="none"/>
<path d="M132.83 621.40H139.22M136.03 618.20V624.60" stroke="#0a0ab8" stroke-width="1.7" fill="none"/>
<path d="M190.45 627.30H196.85M193.65 624.10V630.50" stroke="#0a0ab8" stroke-width="1.7" fill="none"/>
<path d="M248.08 645.40H254.47M251.28 642.20V648.60" stroke="#0a0ab8" stroke-width="1.7" fill="none"/>
<path d="M305.70 637.70H312.10M308.90 634.50V640.90" stroke="#0a0ab8" stroke-width="1.7" fill="none"/>
<circle cx="78.40" cy="632.30" r="2.5" fill="#4aa3f0" stroke="#2a3550" stroke-width="0.7"/>
<circle cx="136.03" cy="628.70" r="2.5" fill="#4aa3f0" stroke="#2a3550" stroke-width="0.7"/>
<circle cx="193.65" cy="628.30" r="2.5" fill="#4aa3f0" stroke="#2a3550" stroke-width="0.7"/>
<circle cx="251.28" cy="630.50" r="2.5" fill="#4aa3f0" stroke="#2a3550" stroke-width="0.7"/>
<circle cx="308.90" cy="636.00" r="2.5" fill="#4aa3f0" stroke="#2a3550" stroke-width="0.7"/>
<rect x="56.00" y="524.60" width="115.20" height="46.80" fill="none" stroke="#3d3de0" stroke-width="1.4" stroke-dasharray="1.9 1.8"/>
<line x1="59.40" y1="532.30" x2="75.80" y2="532.30" stroke="#8a8a8a" stroke-width="1.5" />
<circle cx="67.70" cy="532.30" r="2.5" fill="#4aa3f0" stroke="#2a3550" stroke-width="0.7"/>
<line x1="59.40" y1="548.10" x2="75.80" y2="548.10" stroke="#ff6e6e" stroke-width="1.5" />
<path d="M65.20 545.65H70.20L67.70 550.40Z" fill="#4646e6" stroke="#20204a" stroke-width="0.6"/>
<line x1="59.40" y1="564.00" x2="75.80" y2="564.00" stroke="#5050e8" stroke-width="1.5" />
<path d="M64.50 564.00H70.90M67.70 560.80V567.20" stroke="#0a0ab8" stroke-width="1.7" fill="none"/>
<text x="85.20" y="536.00" font-size="10.3" text-anchor="start" >Control</text>
<text x="85.20" y="551.80" font-size="10.3" text-anchor="start" >Empty pcDNA3.1</text>
<text x="85.20" y="567.70" font-size="10.3" text-anchor="start" >DLEU1</text>
<line x1="395.40" y1="540.80" x2="395.40" y2="723.40" stroke="#000" stroke-width="1.45" />
<line x1="391.10" y1="722.70" x2="395.40" y2="722.70" stroke="#000" stroke-width="1.45" />
<text x="389.20" y="727.30" font-size="12.2" text-anchor="end" >0.5</text>
<line x1="391.10" y1="632.10" x2="395.40" y2="632.10" stroke="#000" stroke-width="1.45" />
<text x="389.20" y="636.70" font-size="12.2" text-anchor="end" >1.0</text>
<line x1="391.10" y1="541.50" x2="395.40" y2="541.50" stroke="#000" stroke-width="1.45" />
<text x="389.20" y="546.10" font-size="12.2" text-anchor="end" >1.5</text>
<line x1="393.10" y1="677.40" x2="395.40" y2="677.40" stroke="#000" stroke-width="1.45" />
<line x1="393.10" y1="586.80" x2="395.40" y2="586.80" stroke="#000" stroke-width="1.45" />
<line x1="391.00" y1="722.70" x2="685.00" y2="722.70" stroke="#000" stroke-width="1.45" />
<line x1="424.40" y1="722.70" x2="424.40" y2="727.30" stroke="#000" stroke-width="1.45" />
<text x="424.40" y="740.80" font-size="12.2" text-anchor="middle" >0 h</text>
<line x1="481.95" y1="722.70" x2="481.95" y2="727.30" stroke="#000" stroke-width="1.45" />
<text x="481.95" y="740.80" font-size="12.2" text-anchor="middle" >24 h</text>
<line x1="539.50" y1="722.70" x2="539.50" y2="727.30" stroke="#000" stroke-width="1.45" />
<text x="539.50" y="740.80" font-size="12.2" text-anchor="middle" >48 h</text>
<line x1="597.05" y1="722.70" x2="597.05" y2="727.30" stroke="#000" stroke-width="1.45" />
<text x="597.05" y="740.80" font-size="12.2" text-anchor="middle" >72 h</text>
<line x1="654.60" y1="722.70" x2="654.60" y2="727.30" stroke="#000" stroke-width="1.45" />
<text x="654.60" y="740.80" font-size="12.2" text-anchor="middle" >96 h</text>
<text x="0" y="0" font-size="12.45" text-anchor="middle" transform="translate(363.60,630.50) rotate(-90)">Relative DLEU1 level</text>
<line x1="424.40" y1="627.40" x2="424.40" y2="662.90" stroke="#ff7b45" stroke-width="1.2" />
<line x1="421.40" y1="627.40" x2="427.40" y2="627.40" stroke="#ff7b45" stroke-width="1.2" />
<line x1="421.40" y1="662.90" x2="427.40" y2="662.90" stroke="#ff7b45" stroke-width="1.2" />
<line x1="481.95" y1="606.60" x2="481.95" y2="642.10" stroke="#ff7b45" stroke-width="1.2" />
<line x1="478.95" y1="606.60" x2="484.95" y2="606.60" stroke="#ff7b45" stroke-width="1.2" />
<line x1="478.95" y1="642.10" x2="484.95" y2="642.10" stroke="#ff7b45" stroke-width="1.2" />
<line x1="539.50" y1="605.30" x2="539.50" y2="640.80" stroke="#ff7b45" stroke-width="1.2" />
<line x1="536.50" y1="605.30" x2="542.50" y2="605.30" stroke="#ff7b45" stroke-width="1.2" />
<line x1="536.50" y1="640.80" x2="542.50" y2="640.80" stroke="#ff7b45" stroke-width="1.2" />
<line x1="597.05" y1="619.70" x2="597.05" y2="655.20" stroke="#ff7b45" stroke-width="1.2" />
<line x1="594.05" y1="619.70" x2="600.05" y2="619.70" stroke="#ff7b45" stroke-width="1.2" />
<line x1="594.05" y1="655.20" x2="600.05" y2="655.20" stroke="#ff7b45" stroke-width="1.2" />
<line x1="654.60" y1="619.70" x2="654.60" y2="655.20" stroke="#ff7b45" stroke-width="1.2" />
<line x1="651.60" y1="619.70" x2="657.60" y2="619.70" stroke="#ff7b45" stroke-width="1.2" />
<line x1="651.60" y1="655.20" x2="657.60" y2="655.20" stroke="#ff7b45" stroke-width="1.2" />
<line x1="424.40" y1="608.10" x2="424.40" y2="644.10" stroke="#303030" stroke-width="1.1" />
<line x1="421.80" y1="608.10" x2="427.00" y2="608.10" stroke="#303030" stroke-width="1.1" />
<line x1="421.80" y1="644.10" x2="427.00" y2="644.10" stroke="#303030" stroke-width="1.1" />
<line x1="424.40" y1="614.30" x2="424.40" y2="650.30" stroke="#303030" stroke-width="1.1" />
<line x1="421.80" y1="614.30" x2="427.00" y2="614.30" stroke="#303030" stroke-width="1.1" />
<line x1="421.80" y1="650.30" x2="427.00" y2="650.30" stroke="#303030" stroke-width="1.1" />
<line x1="481.95" y1="606.60" x2="481.95" y2="642.60" stroke="#303030" stroke-width="1.1" />
<line x1="479.35" y1="606.60" x2="484.55" y2="606.60" stroke="#303030" stroke-width="1.1" />
<line x1="479.35" y1="642.60" x2="484.55" y2="642.60" stroke="#303030" stroke-width="1.1" />
<line x1="481.95" y1="601.60" x2="481.95" y2="637.60" stroke="#303030" stroke-width="1.1" />
<line x1="479.35" y1="601.60" x2="484.55" y2="601.60" stroke="#303030" stroke-width="1.1" />
<line x1="479.35" y1="637.60" x2="484.55" y2="637.60" stroke="#303030" stroke-width="1.1" />
<line x1="539.50" y1="622.90" x2="539.50" y2="658.90" stroke="#303030" stroke-width="1.1" />
<line x1="536.90" y1="622.90" x2="542.10" y2="622.90" stroke="#303030" stroke-width="1.1" />
<line x1="536.90" y1="658.90" x2="542.10" y2="658.90" stroke="#303030" stroke-width="1.1" />
<line x1="539.50" y1="605.30" x2="539.50" y2="641.30" stroke="#303030" stroke-width="1.1" />
<line x1="536.90" y1="605.30" x2="542.10" y2="605.30" stroke="#303030" stroke-width="1.1" />
<line x1="536.90" y1="641.30" x2="542.10" y2="641.30" stroke="#303030" stroke-width="1.1" />
<line x1="597.05" y1="612.00" x2="597.05" y2="648.00" stroke="#303030" stroke-width="1.1" />
<line x1="594.45" y1="612.00" x2="599.65" y2="612.00" stroke="#303030" stroke-width="1.1" />
<line x1="594.45" y1="648.00" x2="599.65" y2="648.00" stroke="#303030" stroke-width="1.1" />
<line x1="597.05" y1="603.70" x2="597.05" y2="639.70" stroke="#303030" stroke-width="1.1" />
<line x1="594.45" y1="603.70" x2="599.65" y2="603.70" stroke="#303030" stroke-width="1.1" />
<line x1="594.45" y1="639.70" x2="599.65" y2="639.70" stroke="#303030" stroke-width="1.1" />
<line x1="654.60" y1="610.30" x2="654.60" y2="646.30" stroke="#303030" stroke-width="1.1" />
<line x1="652.00" y1="610.30" x2="657.20" y2="610.30" stroke="#303030" stroke-width="1.1" />
<line x1="652.00" y1="646.30" x2="657.20" y2="646.30" stroke="#303030" stroke-width="1.1" />
<line x1="654.60" y1="625.00" x2="654.60" y2="661.00" stroke="#303030" stroke-width="1.1" />
<line x1="652.00" y1="625.00" x2="657.20" y2="625.00" stroke="#303030" stroke-width="1.1" />
<line x1="652.00" y1="661.00" x2="657.20" y2="661.00" stroke="#303030" stroke-width="1.1" />
<polyline points="424.40,626.10 481.95,624.60 539.50,640.90 597.05,630.00 654.60,628.30" fill="none" stroke="#ff2a2a" stroke-width="1.0"/>
<polyline points="424.40,632.30 481.95,619.60 539.50,623.30 597.05,621.70 654.60,643.00" fill="none" stroke="#3a3a3a" stroke-width="1.0"/>
<polyline points="424.40,645.40 481.95,624.60 539.50,623.30 597.05,637.70 654.60,637.70" fill="none" stroke="#3232e0" stroke-width="1.0"/>
<path d="M421.90 623.85H426.90L424.40 628.60Z" fill="#4646e6" stroke="#20204a" stroke-width="0.6"/>
<path d="M479.45 622.35H484.45L481.95 627.10Z" fill="#4646e6" stroke="#20204a" stroke-width="0.6"/>
<path d="M537.00 638.65H542.00L539.50 643.40Z" fill="#4646e6" stroke="#20204a" stroke-width="0.6"/>
<path d="M594.55 627.75H599.55L597.05 632.50Z" fill="#4646e6" stroke="#20204a" stroke-width="0.6"/>
<path d="M652.10 626.05H657.10L654.60 630.80Z" fill="#4646e6" stroke="#20204a" stroke-width="0.6"/>
<path d="M421.20 645.40H427.60M424.40 642.20V648.60" stroke="#0a0ab8" stroke-width="1.7" fill="none"/>
<path d="M478.75 624.60H485.15M481.95 621.40V627.80" stroke="#0a0ab8" stroke-width="1.7" fill="none"/>
<path d="M536.30 623.30H542.70M539.50 620.10V626.50" stroke="#0a0ab8" stroke-width="1.7" fill="none"/>
<path d="M593.85 637.70H600.25M597.05 634.50V640.90" stroke="#0a0ab8" stroke-width="1.7" fill="none"/>
<path d="M651.40 637.70H657.80M654.60 634.50V640.90" stroke="#0a0ab8" stroke-width="1.7" fill="none"/>
<circle cx="424.40" cy="632.30" r="2.5" fill="#4aa3f0" stroke="#2a3550" stroke-width="0.7"/>
<circle cx="481.95" cy="619.60" r="2.5" fill="#4aa3f0" stroke="#2a3550" stroke-width="0.7"/>
<circle cx="539.50" cy="623.30" r="2.5" fill="#4aa3f0" stroke="#2a3550" stroke-width="0.7"/>
<circle cx="597.05" cy="621.70" r="2.5" fill="#4aa3f0" stroke="#2a3550" stroke-width="0.7"/>
<circle cx="654.60" cy="643.00" r="2.5" fill="#4aa3f0" stroke="#2a3550" stroke-width="0.7"/>
<rect x="401.80" y="524.50" width="85.80" height="46.70" fill="none" stroke="#3d3de0" stroke-width="1.4" stroke-dasharray="1.9 1.8"/>
<line x1="405.20" y1="532.20" x2="421.60" y2="532.20" stroke="#8a8a8a" stroke-width="1.5" />
<circle cx="413.50" cy="532.20" r="2.5" fill="#4aa3f0" stroke="#2a3550" stroke-width="0.7"/>
<line x1="405.20" y1="548.00" x2="421.60" y2="548.00" stroke="#ff6e6e" stroke-width="1.5" />
<path d="M411.00 545.55H416.00L413.50 550.30Z" fill="#4646e6" stroke="#20204a" stroke-width="0.6"/>
<line x1="405.20" y1="563.90" x2="421.60" y2="563.90" stroke="#5050e8" stroke-width="1.5" />
<path d="M410.30 563.90H416.70M413.50 560.70V567.10" stroke="#0a0ab8" stroke-width="1.7" fill="none"/>
<text x="431.00" y="535.90" font-size="10.3" text-anchor="start" >Control</text>
<text x="431.00" y="551.70" font-size="10.3" text-anchor="start" >NC miRNA</text>
<text x="431.00" y="567.60" font-size="10.3" text-anchor="start" >miR-146b</text>
</svg>
</body></html>
